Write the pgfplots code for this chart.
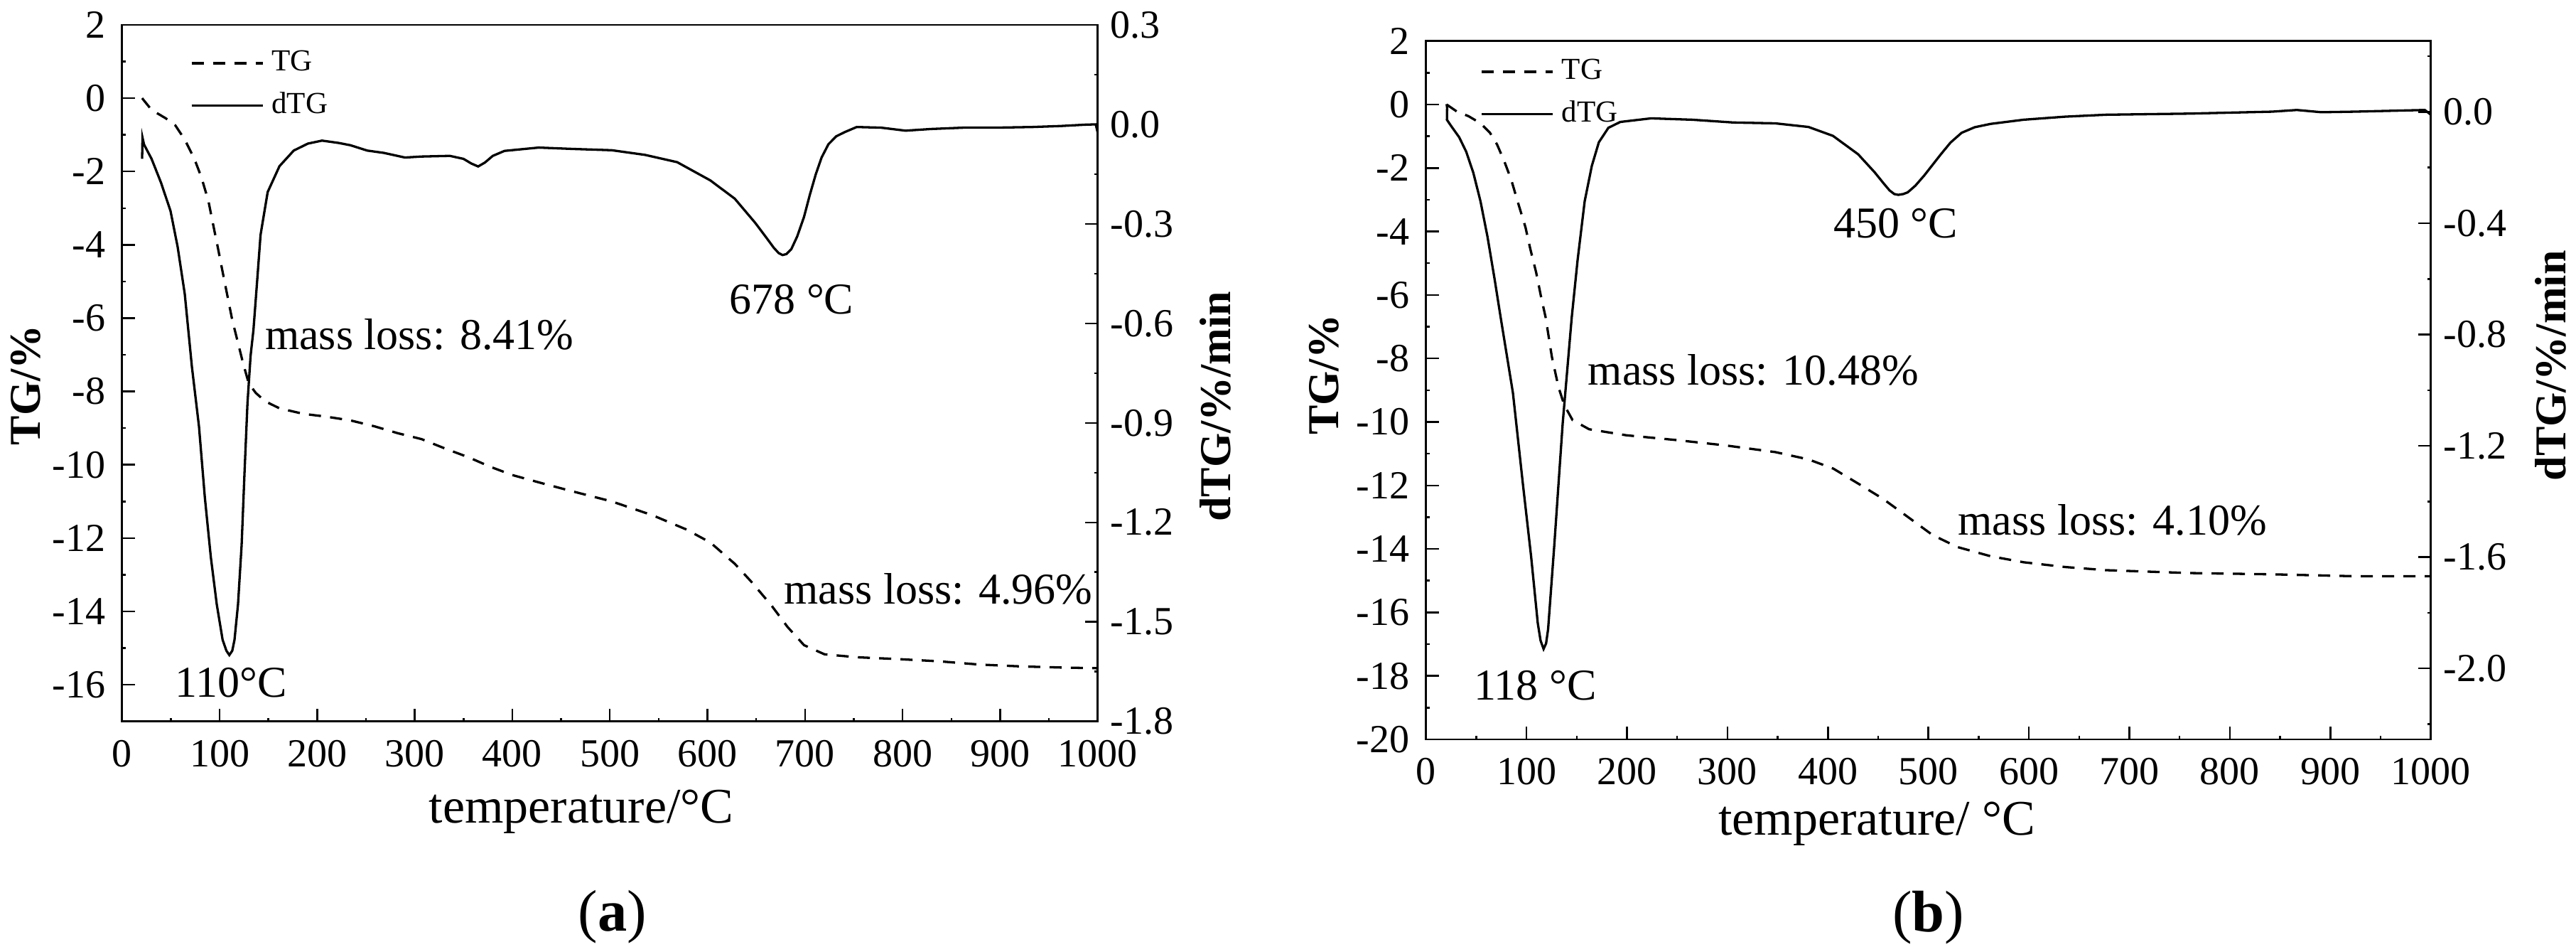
\documentclass[border=0pt]{standalone}
\usepackage{fontspec}
\setmainfont{Liberation Serif}
\usepackage{pgfplots}
\pgfplotsset{compat=1.18}

\tikzset{
  note/.style={anchor=base west, inner sep=0pt, font=\fontsize{12.4}{14}\selectfont},
  tgline/.style={black, line width=0.66pt, dash pattern=on 3.4pt off 2.6pt},
  dtgline/.style={black, line width=0.66pt},
}

\pgfplotsset{
  tga/.style={
    scale only axis, anchor=south west,
    xmin=0, xmax=1000,
    tick align=inside,
    major tick length=3.6pt, minor tick length=1pt,
    tick style={black, line width=0.5pt},
    axis line style={line width=0.55pt},
    /pgf/number format/assume math mode=true,
    /pgf/number format/1000 sep={},
    tick label style={font=\fontsize{11.2}{13}\selectfont},
  },
  tgmain/.style={
    tga, tick pos=left,
    xtick distance=100, minor x tick num=1,
    ytick distance=2, minor y tick num=1,
    xticklabel style={yshift=-1.7pt},
    yticklabel style={xshift=-1.2pt},
    xlabel style={anchor=base, font=\fontsize{14}{16}\selectfont},
    ylabel style={anchor=center, font=\fontsize{12.4}{14}\selectfont\bfseries},
    legend style={draw=none, fill=none, anchor=north west, inner sep=0pt,
      font=\fontsize{8.6}{10}\selectfont, row sep=4.6pt,
      nodes={inner sep=0pt},
      /tikz/every odd column/.append style={column sep=2.2pt}},
    legend cell align=left,
    legend image code/.code={\draw[#1] (0pt,0pt) -- (20pt,0pt);},
  },
  dtg/.style={
    tga, axis y line*=right, axis x line*=top,
    xtick=\empty, minor xtick={0,50,...,1000},
    minor y tick num=1,
    yticklabel style={/pgf/number format/.cd, fixed, fixed zerofill, precision=1},
    ylabel style={anchor=center, font=\fontsize{12.4}{14}\selectfont\bfseries},
  },
}

\begin{document}
\begin{tikzpicture}
\useasboundingbox (0pt,0pt) rectangle (725pt,266.4pt);

% ---------- (a) ----------
\begin{axis}[tgmain, at={(34.34pt,63.46pt)}, width=274.6pt, height=195.94pt,
  ymin=-17, ymax=2,
  xlabel={temperature/°C}, ylabel={TG/\%},
  xlabel style={at={(axis description cs:0.4707,0)}, yshift=-28.66pt},
  ylabel style={at={(axis description cs:-0.0987,0.4826)}},
  legend style={at={(axis description cs:0.0694,0.9643)}},
]
\addplot[tgline] coordinates {
 (20.6,0.0) (30.3,-0.32) (44.9,-0.55) (54.6,-0.74) (64.3,-1.13) (74.1,-1.65)
 (81.4,-2.16) (88.6,-2.81) (93.5,-3.46) (98.4,-4.10) (103.2,-4.75) (108.1,-5.40)
 (112.9,-6.04) (117.8,-6.56) (123.8,-7.20) (129.9,-7.78) (137.1,-8.04)
 (146.8,-8.27) (161.4,-8.46) (185.7,-8.61) (210,-8.69) (234.2,-8.79)
 (258.6,-8.95) (282.8,-9.14) (307,-9.30) (331.4,-9.56) (355.6,-9.80)
 (377,-10.05) (400,-10.28) (430,-10.50) (461,-10.72) (502,-11.0) (544,-11.38)
 (578,-11.76) (603,-12.12) (628,-12.7) (645,-13.19) (666,-13.85) (682,-14.42)
 (699,-14.92) (720,-15.17) (753,-15.25) (795,-15.3) (837,-15.36) (879,-15.45)
 (921,-15.5) (962,-15.53) (1000,-15.55)
};
\addlegendentry{TG}
\addlegendimage{dtgline}
\addlegendentry{dTG}
\node[note] at (axis cs:146,-6.85) {mass loss: 8.41\%};
\node[note] at (axis cs:54,-16.33) {110°C};
\node[note] at (axis cs:622,-5.89) {678 °C};
\node[note] at (axis cs:678,-13.79) {mass loss: 4.96\%};
\end{axis}

\begin{axis}[dtg, at={(34.34pt,63.46pt)}, width=274.6pt, height=195.94pt,
  ymin=-1.8, ymax=0.3, ytick distance=0.3,
  ylabel={dTG/\%/min},
  ylabel style={at={(axis description cs:1.121,0.452)}},
]
\addplot[dtgline] coordinates {
 (20.6,-0.104) (21,-0.040) (22.6,-0.061) (30.3,-0.104) (40,-0.176) (49.7,-0.261)
 (57,-0.369) (64.3,-0.511) (71.6,-0.73) (78.9,-0.911) (84.9,-1.125) (91,-1.304)
 (97.1,-1.447) (103.1,-1.554) (107,-1.587) (110,-1.600) (113,-1.587)
 (115.3,-1.554) (118.9,-1.447) (122.6,-1.268) (125.5,-1.054) (128.6,-0.84)
 (131.8,-0.697) (134.7,-0.62) (138.4,-0.476) (142,-0.333) (149.3,-0.204)
 (161.4,-0.126) (176,-0.079) (190.5,-0.058) (205,-0.049) (222,-0.056)
 (234.2,-0.063) (251.3,-0.079) (268.3,-0.086) (290,-0.10) (307,-0.097)
 (336,-0.095) (350,-0.104) (358,-0.118) (365,-0.127) (372,-0.115) (380,-0.095)
 (392,-0.080) (427,-0.070) (461,-0.074) (502,-0.078) (536,-0.092) (569,-0.114)
 (603,-0.169) (628,-0.224) (649,-0.297) (660,-0.340) (668,-0.372) (673,-0.388)
 (677,-0.394) (681,-0.391) (686,-0.376) (692,-0.338) (699,-0.279) (705,-0.212)
 (711,-0.151) (717,-0.100) (724,-0.06) (732,-0.036) (741,-0.023) (753,-0.008)
 (778,-0.010) (803,-0.019) (829,-0.014) (862,-0.010) (895,-0.010) (933,-0.008)
 (962,-0.005) (987,-0.001) (998,0.0) (1000,-0.025)
};
\end{axis}

% ---------- (b) ----------
\begin{axis}[tgmain, at={(401.34pt,58.4pt)}, width=282.8pt, height=196.46pt,
  ymin=-20, ymax=2,
  xlabel={temperature/ °C}, ylabel={TG/\%},
  xlabel style={at={(axis description cs:0.4486,0)}, yshift=-27pt},
  ylabel style={at={(axis description cs:-0.1015,0.522)}},
  legend style={at={(axis description cs:0.0537,0.9753)}},
]
\addplot[tgline] coordinates {
 (20.5,0.0) (30.6,-0.22) (42.4,-0.37) (54.2,-0.59) (63.6,-0.89) (70.7,-1.26)
 (77.8,-1.78) (84.9,-2.38) (91.9,-3.13) (99,-3.87) (103.7,-4.54) (109.6,-5.29)
 (114.3,-6.03) (119,-6.70) (125.2,-7.94) (131.8,-8.90) (137.6,-9.47)
 (145.8,-9.94) (162.3,-10.23) (199.3,-10.42) (248.8,-10.57) (298.2,-10.74)
 (347.6,-10.95) (380.6,-11.18) (405.3,-11.47) (430,-11.94) (454.7,-12.42)
 (479.4,-12.99) (504,-13.56) (528.8,-13.94) (561.8,-14.23) (594.7,-14.42)
 (636,-14.57) (677,-14.67) (759.5,-14.76) (842,-14.80) (924,-14.86) (1000,-14.86)
};
\addlegendentry{TG}
\addlegendimage{dtgline}
\addlegendentry{dTG}
\node[note] at (axis cs:160.6,-8.84) {mass loss: 10.48\%};
\node[note] at (axis cs:47,-18.76) {118 °C};
\node[note] at (axis cs:405,-4.19) {450 °C};
\node[note] at (axis cs:529,-13.56) {mass loss: 4.10\%};
\end{axis}

\begin{axis}[dtg, at={(401.34pt,58.4pt)}, width=282.8pt, height=196.46pt,
  ymin=-2.255, ymax=0.255, ytick distance=0.4,
  ylabel={dTG/\%/min},
  ylabel style={at={(axis description cs:1.1195,0.535)}},
]
\addplot[dtgline] coordinates {
 (20.5,0.028) (21,0.015) (20.8,-0.028) (24.7,-0.049) (33,-0.091) (40,-0.143)
 (47.1,-0.219) (54.2,-0.321) (61.2,-0.449) (68.3,-0.602) (74.3,-0.739)
 (86.5,-1.010) (96.4,-1.337) (104.6,-1.598) (111.2,-1.837) (114,-1.90)
 (117,-1.93) (119.5,-1.91) (121.5,-1.859) (127.7,-1.555) (136,-1.12) (145,-0.739)
 (150.8,-0.534) (157.9,-0.321) (165,-0.194) (172,-0.109) (181.5,-0.057)
 (193.3,-0.036) (207.4,-0.030) (224,-0.023) (265,-0.028) (306,-0.038)
 (347.6,-0.041) (380.6,-0.054) (405,-0.086) (430,-0.152) (446.5,-0.217)
 (455,-0.255) (461.3,-0.282) (466,-0.295) (470,-0.298) (475,-0.295)
 (479.4,-0.289) (487,-0.265) (495.9,-0.228) (512.4,-0.152) (522,-0.110)
 (533,-0.075) (546,-0.055) (561.8,-0.043) (594.7,-0.028) (636,-0.017)
 (677,-0.010) (759.5,-0.006) (842,0.001) (866.6,0.007) (891,-0.001) (924,0.001)
 (994,0.007) (1000,-0.010)
};
\end{axis}

\node[anchor=base, inner sep=0pt, font=\fontsize{16.5}{18}\selectfont] at (172.4pt,4.4pt) {(\textbf{a})};
\node[anchor=base, inner sep=0pt, font=\fontsize{16.5}{18}\selectfont] at (542.7pt,4.2pt) {(\textbf{b})};
\end{tikzpicture}
\end{document}
